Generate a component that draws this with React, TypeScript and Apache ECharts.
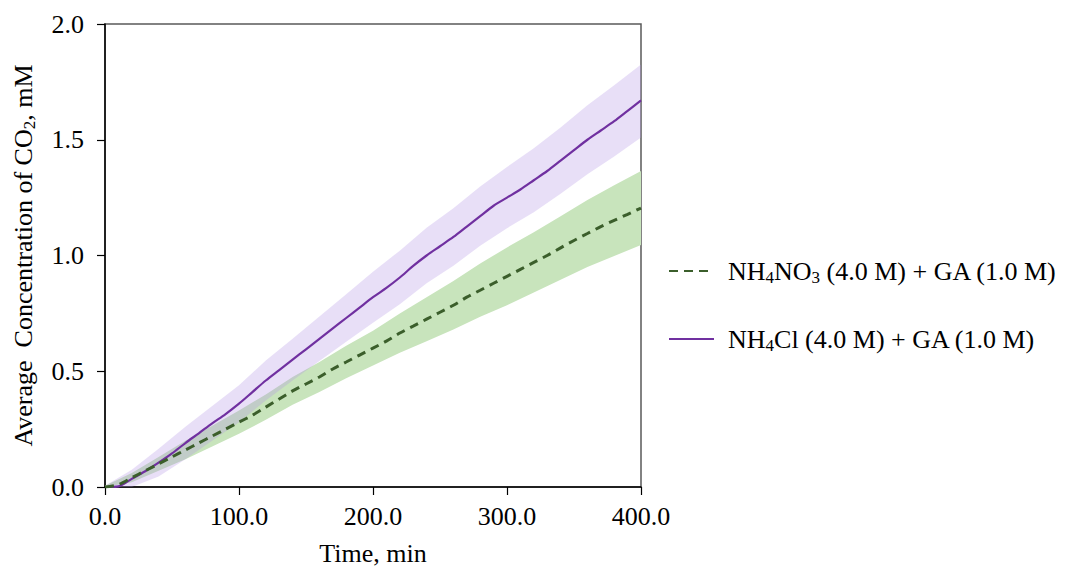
import React, { useEffect, useRef } from "react";
import * as echarts from "echarts";

// Time grid for the mean curves (min)
const TIME = [
  0, 10, 20, 30, 40, 50, 60, 70, 80, 90, 100, 110, 120, 130, 140, 150, 160, 170, 180, 190, 200,
  210, 220, 230, 240, 250, 260, 270, 280, 290, 300, 310, 320, 330, 340, 350, 360, 370, 380, 390, 400,
];

// NH4Cl (4.0 M) + GA (1.0 M), mean CO2 concentration (mM)
const NH4CL_MEAN = [
  0, 0.003, 0.035, 0.068, 0.105, 0.145, 0.19, 0.232, 0.275, 0.315, 0.36, 0.41, 0.46, 0.505, 0.55,
  0.595, 0.64, 0.685, 0.73, 0.775, 0.82, 0.86, 0.905, 0.955, 1.0, 1.04, 1.08, 1.125, 1.17, 1.215,
  1.25, 1.285, 1.325, 1.365, 1.41, 1.455, 1.5, 1.54, 1.58, 1.625, 1.67,
];

// NH4NO3 (4.0 M) + GA (1.0 M), mean CO2 concentration (mM)
const NH4NO3_MEAN = [
  0, 0.01, 0.04, 0.07, 0.1, 0.13, 0.16, 0.19, 0.22, 0.25, 0.28, 0.31, 0.345, 0.38, 0.415, 0.445,
  0.475, 0.51, 0.54, 0.57, 0.6, 0.63, 0.665, 0.695, 0.725, 0.755, 0.785, 0.82, 0.85, 0.88, 0.91,
  0.94, 0.97, 1.0, 1.033, 1.065, 1.095, 1.125, 1.152, 1.178, 1.205,
];

// Time grid for the spread bands (min)
const BAND_TIME = [0, 20, 40, 60, 80, 100, 120, 140, 160, 180, 200, 220, 240, 260, 280, 300, 320, 340, 360, 380, 400];

const NH4CL_UPPER = [
  0.005, 0.075, 0.165, 0.26, 0.35, 0.44, 0.546, 0.64, 0.736, 0.833, 0.93, 1.021, 1.12, 1.204, 1.298,
  1.382, 1.463, 1.553, 1.649, 1.735, 1.825,
];
const NH4CL_LOWER = [
  0, 0, 0.045, 0.12, 0.2, 0.28, 0.374, 0.46, 0.544, 0.627, 0.71, 0.789, 0.88, 0.956, 1.042, 1.118,
  1.187, 1.267, 1.351, 1.428, 1.51,
];
const NH4NO3_UPPER = [
  0.005, 0.06, 0.13, 0.2, 0.265, 0.33, 0.4, 0.475, 0.54, 0.61, 0.675, 0.75, 0.82, 0.89, 0.965, 1.035,
  1.1, 1.17, 1.24, 1.303, 1.365,
];
const NH4NO3_LOWER = [
  0, 0.02, 0.07, 0.12, 0.175, 0.23, 0.29, 0.355, 0.41, 0.47, 0.525, 0.58, 0.63, 0.68, 0.735, 0.785,
  0.84, 0.895, 0.95, 0.998, 1.045,
];

const NAME_NO3 = "NH4NO3 (4.0 M) + GA (1.0 M)";
const NAME_CL = "NH4Cl (4.0 M) + GA (1.0 M)";

const FONT = "'Liberation Serif', 'Times New Roman', serif";
const FS = 26;

const pair = (xs: number[], ys: number[]) => xs.map((x, i) => [x, ys[i]]);

function bandSeries(lower: number[], upper: number[], fill: string, z: number) {
  return {
    type: "custom",
    silent: true,
    z,
    clip: true,
    data: [[0, 0]],
    renderItem: (_params: any, api: any) => {
      const pts: number[][] = [];
      for (let i = 0; i < BAND_TIME.length; i++) pts.push(api.coord([BAND_TIME[i], upper[i]]));
      for (let i = BAND_TIME.length - 1; i >= 0; i--) pts.push(api.coord([BAND_TIME[i], lower[i]]));
      return { type: "polygon", shape: { points: pts }, style: { fill } };
    },
  };
}

const SUB = { fontSize: 17, fontFamily: FONT, color: "#000", verticalAlign: "bottom", lineHeight: 30 };
const NORM = { fontSize: FS, fontFamily: FONT, color: "#000", lineHeight: 30 };

export default function App() {
  const ref = useRef<HTMLDivElement>(null);

  useEffect(() => {
    if (!ref.current) return;
    const chart = echarts.init(ref.current, undefined, { renderer: "svg" });
    chart.setOption({
      animation: false,
      backgroundColor: "#fff",
      grid: {
        left: 105,
        top: 24,
        width: 536,
        height: 468,
        show: true,
        borderColor: "#595959",
        borderWidth: 1.5,
      },
      legend: {
        orient: "vertical",
        left: 668,
        top: 258,
        padding: 0,
        itemWidth: 45,
        itemHeight: 14,
        itemGap: 40,
        itemStyle: { opacity: 0 },
        data: [NAME_NO3, NAME_CL],
        formatter: (name: string) =>
          name === NAME_NO3
            ? "{n|NH}{s|4}{n|NO}{s|3}{n| (4.0 M) + GA (1.0 M)}"
            : "{n|NH}{s|4}{n|Cl (4.0 M) + GA (1.0 M)}",
        textStyle: {
          padding: [0, 0, 0, 9],
          rich: { n: NORM, s: SUB },
        },
      },
      xAxis: {
        type: "value",
        min: 0,
        max: 400,
        interval: 100,
        name: "Time, min",
        nameLocation: "middle",
        nameGap: 53,
        nameTextStyle: { fontFamily: FONT, fontSize: FS, color: "#000" },
        axisLine: { show: true, onZero: false, lineStyle: { color: "#000", width: 1.5 } },
        axisTick: { show: true, inside: false, length: 8, lineStyle: { color: "#000", width: 1.2 } },
        axisLabel: {
          margin: 16,
          fontFamily: FONT,
          fontSize: FS,
          color: "#000",
          formatter: (v: number) => v.toFixed(1),
        },
        splitLine: { show: false },
      },
      yAxis: {
        type: "value",
        min: 0,
        max: 2,
        interval: 0.5,
        name: "{n|Average  Concentration of CO}{s|2}{n|, mM}",
        nameLocation: "middle",
        nameGap: 67,
        nameTextStyle: { rich: { n: NORM, s: SUB } },
        axisLine: { show: true, onZero: false, lineStyle: { color: "#000", width: 1.5 } },
        axisTick: { show: true, inside: false, length: 8, lineStyle: { color: "#000", width: 1.2 } },
        axisLabel: {
          margin: 21,
          fontFamily: FONT,
          fontSize: FS,
          color: "#000",
          formatter: (v: number) => v.toFixed(1),
        },
        splitLine: { show: false },
      },
      series: [
        bandSeries(NH4NO3_LOWER, NH4NO3_UPPER, "#c8e4bc", 1),
        bandSeries(NH4CL_LOWER, NH4CL_UPPER, "rgba(180,150,230,0.3)", 2),
        {
          name: NAME_NO3,
          type: "line",
          z: 4,
          showSymbol: false,
          symbol: "none",
          smooth: 0.3,
          data: pair(TIME, NH4NO3_MEAN),
          itemStyle: { color: "#3b5e2b" },
          lineStyle: { color: "#3b5e2b", width: 3, type: [9, 6] },
        },
        {
          name: NAME_CL,
          type: "line",
          z: 3,
          showSymbol: false,
          symbol: "none",
          smooth: 0.3,
          data: pair(TIME, NH4CL_MEAN),
          itemStyle: { color: "#7030a0" },
          lineStyle: { color: "#7030a0", width: 2.2 },
        },
      ],
    });
    return () => chart.dispose();
  }, []);

  return (
    <div
      ref={ref}
      style={{ position: "fixed", left: 0, top: 0, width: 1074, height: 571 }}
    />
  );
}
